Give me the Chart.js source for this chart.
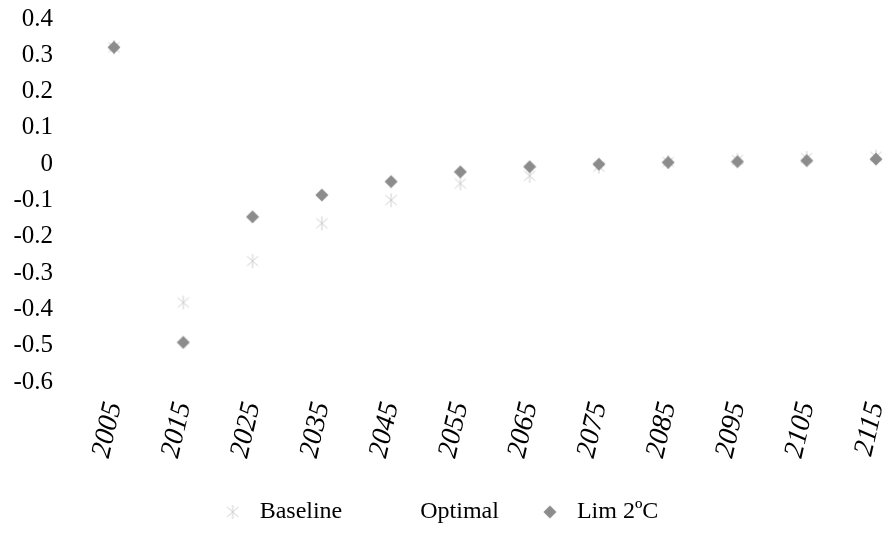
<!DOCTYPE html>
<html><head><meta charset="utf-8">
<script src="https://cdn.jsdelivr.net/npm/chart.js@4/dist/chart.umd.min.js"></script>
<style>html,body{margin:0;padding:0;background:#fff}#wrap{width:886px;height:541px}</style>
</head><body><div id="wrap"><canvas id="c" width="886" height="541"></canvas></div>
<script>
const years = ['2005','2015','2025','2035','2045','2055','2065','2075','2085','2095','2105','2115'];
const baseline = [0.322, -0.381, -0.267, -0.163, -0.099, -0.053, -0.032, -0.007, 0.006, 0.012, 0.017, 0.021];
const optimal = [null, null, null, null, null, null, null, null, null, null, null, null];
const lim2C = [0.322, -0.491, -0.145, -0.085, -0.048, -0.021, -0.007, 0.000, 0.005, 0.007, 0.010, 0.014];
const yTicks = [-0.6, -0.5, -0.4, -0.3, -0.2, -0.1, 0, 0.1, 0.2, 0.3, 0.4];

const FONT = 'Liberation Serif';
const FS = 24;

function makeStar() {
  const s = 16, c = document.createElement('canvas');
  c.width = s; c.height = s;
  const g = c.getContext('2d');
  g.strokeStyle = '#cfcfcf'; g.lineWidth = 1;
  const m = s / 2, r = 7;
  g.beginPath();
  g.moveTo(m, m - r); g.lineTo(m, m + r);
  g.moveTo(m - r * 0.8, m - r * 0.7); g.lineTo(m + r * 0.8, m + r * 0.7);
  g.moveTo(m + r * 0.8, m - r * 0.7); g.lineTo(m - r * 0.8, m + r * 0.7);
  g.stroke();
  return c;
}
function makeDiamond() {
  const s = 14, c = document.createElement('canvas');
  c.width = s; c.height = s;
  const g = c.getContext('2d');
  g.fillStyle = '#8c8c8c';
  const m = s / 2, r = 6.5;
  g.beginPath();
  g.moveTo(m, m - r); g.lineTo(m + r, m); g.lineTo(m, m + r); g.lineTo(m - r, m);
  g.closePath(); g.fill();
  return c;
}
const star = makeStar();
const diamond = makeDiamond();

new Chart(document.getElementById('c'), {
  type: 'line',
  data: {
    labels: years,
    datasets: [
      { label: 'Baseline', data: baseline, showLine: false, pointStyle: star, pointRadius: 7, order: 2, clip: false,
        borderColor: '#cfcfcf', backgroundColor: '#cfcfcf' },
      { label: 'Optimal', data: optimal, showLine: false, pointStyle: 'circle', pointRadius: 0, order: 1, clip: false,
        borderColor: 'rgba(0,0,0,0)', backgroundColor: 'rgba(0,0,0,0)' },
      { label: 'Lim 2ºC', data: lim2C, showLine: false, pointStyle: diamond, pointRadius: 7, order: 0, clip: false,
        borderColor: '#8c8c8c', backgroundColor: '#8c8c8c' }
    ]
  },
  options: {
    responsive: false,
    animation: false,
    devicePixelRatio: 1,
    layout: { padding: { top: 19, right: 10, bottom: 7, left: 0 } },
    plugins: {
      tooltip: { enabled: false },
      legend: {
        position: 'bottom',
        labels: {
          usePointStyle: true,
          pointStyleWidth: 30,
          boxHeight: 9,
          padding: 36,
          color: '#000',
          font: { family: FONT, size: FS },
          sort: (a, b) => a.datasetIndex - b.datasetIndex
        }
      }
    },
    scales: {
      x: {
        offset: false,
        grid: { display: false, drawTicks: false },
        border: { display: false },
        ticks: { color: '#000', font: { family: FONT, size: 28, style: 'italic' }, minRotation: 77, maxRotation: 77, padding: 17, autoSkip: false },
        afterFit: (a) => { a.height = 82; a.paddingLeft = 0; a.paddingRight = 0; }
      },
      y: {
        min: -0.6, max: 0.4,
        grid: { display: false, drawTicks: false },
        border: { display: false },
        afterBuildTicks: (a) => { a.ticks = yTicks.map(v => ({ value: v })); },
        ticks: { color: '#000', font: { family: FONT, size: 25 }, padding: 61, callback: (v) => String(Math.round(v * 10) / 10) },
        afterFit: (a) => { a.width = 114; a.paddingTop = 0; a.paddingBottom = 0; }
      }
    }
  }
});
</script>
</body></html>
